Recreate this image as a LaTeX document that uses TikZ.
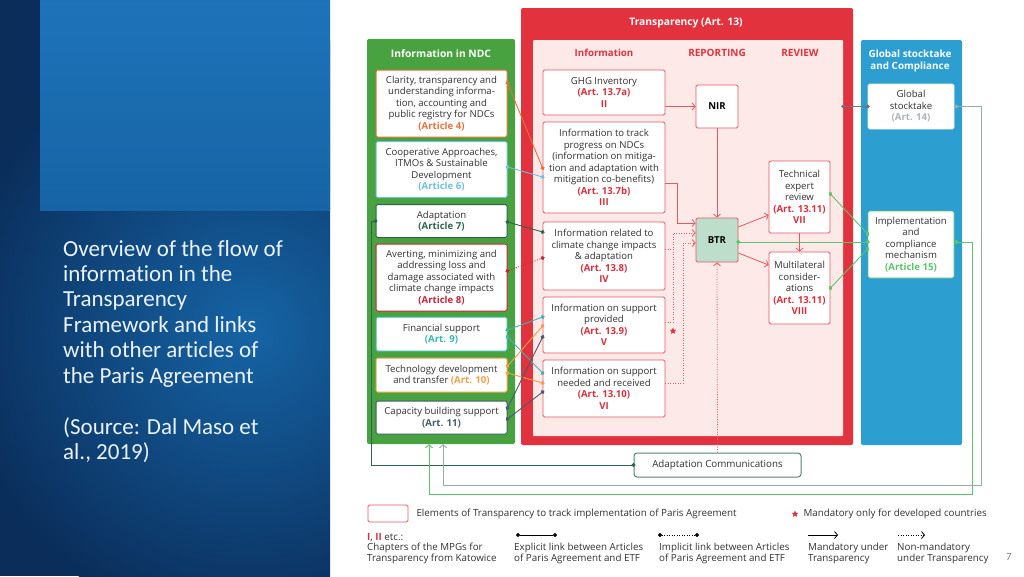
\documentclass[tikz,border=0pt]{standalone}
\usepackage{fontspec}
\setmainfont{Open Sans}
\newfontfamily\slidefont{Carlito}[Ligatures=NoCommon]
\usetikzlibrary{arrows.meta,shapes.geometric}

\definecolor{ndcgreen}{RGB}{72,162,63}
\definecolor{trred}{RGB}{226,50,62}
\definecolor{trpink}{RGB}{253,233,231}
\definecolor{boxred}{RGB}{228,88,100}
\definecolor{artred}{RGB}{214,48,60}
\definecolor{gsblue}{RGB}{44,158,208}
\definecolor{artorange}{RGB}{232,112,56}
\definecolor{artblue}{RGB}{110,190,225}
\definecolor{adgreen}{RGB}{46,100,78}
\definecolor{lossred}{RGB}{200,36,60}
\definecolor{finteal}{RGB}{56,184,178}
\definecolor{techorange}{RGB}{245,158,70}
\definecolor{capslate}{RGB}{66,94,104}
\definecolor{btrfill}{RGB}{190,222,204}
\definecolor{implgreen}{RGB}{92,196,106}
\definecolor{gsgray}{RGB}{150,172,172}
\definecolor{gstext}{RGB}{170,180,185}
\definecolor{bodygray}{RGB}{50,50,50}
\definecolor{navydark}{RGB}{10,45,90}
\definecolor{navymid}{RGB}{22,100,165}
\definecolor{navytop}{RGB}{30,115,185}
\definecolor{slidewhite}{RGB}{235,242,250}

\newcommand\artref[2][artred]{\textcolor{#1}{\bfseries #2}}

\tikzset{
  diagtext/.style={font=\fontsize{9.6}{11.5}\selectfont, text=bodygray},
  legtext/.style={font=\fontsize{9.8}{11}\selectfont, text=bodygray},
  ndcbox/.style={draw=#1, fill=white, line width=1pt, rounded corners=1.5pt,
    minimum width=131, align=center, inner sep=1pt, diagtext},
  trbox/.style={draw=boxred, fill=white, line width=0.8pt, rounded corners=1.5pt,
    minimum width=122, align=center, inner sep=1pt, diagtext},
  colpanel/.style={fill=#1, rounded corners=2pt, inner sep=0pt},
  coltitle/.style={font=\bfseries\fontsize{10.3}{11.5}\selectfont, text=white, align=center},
  redhead/.style={font=\bfseries\fontsize{9.7}{11}\selectfont, text=trred},
  explink/.style={draw=#1, line width=0.9pt, {Circle[length=4pt]}-{Circle[length=4pt]},
    shorten <=-2pt, shorten >=-2pt},
  implink/.style={explink=#1, dash pattern=on 0.9pt off 1.6pt},
  mandarrow/.style={draw=boxred, line width=0.8pt, -{Straight Barb[length=3pt,width=7pt]}},
  optarrow/.style={mandarrow, dash pattern=on 0.9pt off 1.6pt},
  slidetext/.style={font=\slidefont\fontsize{23}{25.4}\selectfont, text=slidewhite,
    align=left, inner sep=0pt},
}

\begin{document}
\begin{tikzpicture}[x=1pt, y=-1pt]
\useasboundingbox (0,0) rectangle (1024,576);
\fill[white] (0,0) rectangle (1024,576);

% slide panel
\begin{scope}
  \clip (0,0) rectangle (330,576);
  \fill[navydark] (0,0) rectangle (330,576);
  \shade[inner color=navymid, outer color=navydark] (250,330) circle (300);
  \shade[top color=navytop, bottom color=navymid] (40,0) rectangle (330,210);
\end{scope}
\node[slidetext, anchor=north west] (title) at (63,240)
  {Overview of the flow of\\information in the\\Transparency\\Framework and links\\with other articles of\\the Paris Agreement};
\node[slidetext, anchor=north west] (source) at (63,417) {(Source: Dal Maso et\\al., 2019)};
\node[font=\slidefont\fontsize{11}{13}\selectfont, text=gray] (pageno) at (1009,557) {7};

% columns
\node[colpanel=ndcgreen, minimum width=148, minimum height=405] (ndccol) at (441,241.5) {};
\node[coltitle] (ndctitle) at (441,54) {Information in NDC};
\node[colpanel=trred, minimum width=332, minimum height=437] (trcol) at (687,226.5) {};
\node[fill=trpink, minimum width=310, minimum height=396, inner sep=0pt, rounded corners=1pt] (trpanel) at (688,238) {};
\node[coltitle] (trtitle) at (686,23) {Transparency (Art. 13)};
\node[redhead] (infohead) at (604,53) {Information};
\node[redhead, font=\bfseries\fontsize{10}{11}\selectfont] (rephead) at (717,53) {REPORTING};
\node[redhead, font=\bfseries\fontsize{10}{11}\selectfont] (revhead) at (800,53) {REVIEW};
\node[colpanel=gsblue, minimum width=101, minimum height=405] (gscol) at (911.5,242.5) {};
\node[coltitle, font=\bfseries\fontsize{9.9}{11.5}\selectfont] (gstitle) at (910,61) {Global stocktake\\and Compliance};

% information in NDC
\node[ndcbox=artorange, minimum height=67] (clar) at (441.5,103.5)
  {Clarity, transparency and\\understanding informa-\\tion, accounting and\\public registry for NDCs\\\artref[artorange]{(Article 4)}};
\node[ndcbox=artblue, minimum height=56] (coop) at (441.5,169.5)
  {Cooperative Approaches,\\ITMOs \& Sustainable\\Development\\\artref[artblue]{(Article 6)}};
\node[ndcbox=adgreen, minimum height=33] (adapt) at (441.5,221)
  {Adaptation\\\artref[adgreen]{(Article 7)}};
\node[ndcbox=lossred, minimum height=67] (avert) at (441.5,277.5)
  {Averting, minimizing and\\addressing loss and\\damage associated with\\climate change impacts\\\artref[lossred]{(Article 8)}};
\node[ndcbox=finteal, minimum height=34] (fin) at (441.5,334)
  {Financial support\\\artref[finteal]{(Art. 9)}};
\node[ndcbox=techorange, minimum height=34] (tech) at (441.5,375)
  {Technology development\\and transfer \artref[techorange]{(Art. 10)}};
\node[ndcbox=capslate, minimum height=33] (cap) at (441.5,417.5)
  {Capacity building support\\\artref[capslate]{(Art. 11)}};

% transparency
\node[trbox, minimum height=45] (ghg) at (604,92.5)
  {GHG Inventory\\\artref{(Art. 13.7a)}\\\artref{II}};
\node[trbox, minimum height=91] (track) at (604,167.5)
  {Information to track\\progress on NDCs\\(information on mitiga-\\tion and adaptation with\\mitigation co-benefits)\\\artref{(Art. 13.7b)}\\\artref{III}};
\node[trbox, minimum height=68] (clim) at (604,256)
  {Information related to\\climate change impacts\\\& adaptation\\\artref{(Art. 13.8)}\\\artref{IV}};
\node[trbox, minimum height=56] (prov) at (604,325)
  {Information on support\\provided\\\artref{(Art. 13.9)}\\\artref{V}};
\node[trbox, minimum height=57] (need) at (604,388.5)
  {Information on support\\needed and received\\\artref{(Art. 13.10)}\\\artref{VI}};
\node[trbox, minimum width=42, minimum height=43, font=\bfseries\fontsize{9.6}{10}\selectfont, text=black] (nir) at (717,106.5) {NIR};
\node[trbox, fill=btrfill, minimum width=42, minimum height=44, font=\bfseries\fontsize{9.6}{10}\selectfont, text=black] (btr) at (717,240) {BTR};
\node[trbox, minimum width=61, minimum height=72] (ter) at (799.5,197)
  {Technical\\expert\\review\\\artref{(Art. 13.11)}\\\artref{VII}};
\node[trbox, minimum width=61, minimum height=72] (multi) at (799.5,288)
  {Multilateral\\consider-\\ations\\\artref{(Art. 13.11)}\\\artref{VIII}};

% global stocktake and compliance
\node[ndcbox=white!85!gray, minimum width=86, minimum height=45, line width=0.6pt] (gs) at (911,106.5)
  {Global\\stocktake\\\artref[gstext]{(Art. 14)}};
\node[ndcbox=implgreen, minimum width=86, minimum height=67, line width=0.8pt] (impl) at (911,244.5)
  {Implementation\\and\\compliance\\mechanism\\\artref[implgreen]{(Article 15)}};
\node[ndcbox=adgreen!80!white, minimum width=167, minimum height=24, rounded corners=3pt, legtext] (adcom) at (717.5,465)
  {Adaptation Communications};

% links from NDC articles
\foreach \a/\ya/\b/\yb/\c in {clar/83/track/168/artorange, coop/167/track/177/artblue,
    adapt/222/clim/232/adgreen, fin/330/prov/317/finteal, fin/337/need/373/finteal,
    tech/366/prov/326/techorange, tech/373/need/383/techorange,
    cap/408/prov/337/capslate, cap/419/need/392/capslate}
  \draw[explink=\c] (\a.east |- 0,\ya) -- (\b.west |- 0,\yb);
\draw[implink=lossred] (avert.east |- 0,271) -- (clim.west |- 0,258);
\draw[explink=adgreen] (adapt.west) -- ++(-4,0) |- (adcom.west);

% reporting and review
\draw[mandarrow] (ghg.east |- nir.west) -- (nir.west);
\draw[mandarrow] (nir) -- (btr);
\draw[mandarrow] (track.east |- 0,183) -- ++(12,0) |- (btr.west |- 0,223);
\draw[optarrow] (prov.east |- 0,322) -- ++(8,0) |- (btr.west |- 0,233);
\draw[boxred, line width=0.8pt, dash pattern=on 0.9pt off 1.6pt] (clim.east |- 0,249) -- ++(8,0);
\draw[optarrow] (need.east |- 0,383) -- ++(18,0) |- (btr.west |- 0,243);
\draw[optarrow] (adcom.north) -- (btr.south);
\draw[mandarrow] (btr.east |- 0,227) -- (ter.west |- 0,215);
\draw[mandarrow] (btr.east |- 0,253) -- (multi.west |- 0,265);
\draw[mandarrow] (ter) -- (multi);
\node[star, star points=5, star point ratio=2.2, fill=trred, inner sep=0pt, minimum size=7] (devstar) at (673,331) {};

% compliance and stocktake
\draw[explink=implgreen] (btr.east |- 0,242) -- (impl.west |- 0,242);
\draw[explink=implgreen] (ter.east |- 0,194) -- (impl.west |- 0,234);
\draw[explink=implgreen] (multi.east |- 0,288) -- (impl.west |- 0,249);
\draw[explink=gsgray!70!black] (trpanel.east |- gs.west) -- (gs.west);
\draw[implgreen, line width=0.9pt, {Circle[length=4pt]}-{Straight Barb[length=3pt,width=7pt]}]
  (impl.east |- 0,242) -| (972,494) -| (ndccol.south -| 429,0);
\draw[gsgray, line width=0.9pt, {Circle[length=4pt]}-{Straight Barb[length=3pt,width=7pt]}]
  (gs.east) -| (981,485) -| (ndccol.south -| 443,0);

% legend
\node[draw=boxred, line width=0.8pt, rounded corners=1.5pt, minimum width=40, minimum height=17] (legbox) at (388,513.5) {};
\node[legtext, anchor=west] (legboxtext) at (413,514) {Elements of Transparency to track implementation of Paris Agreement};
\node[star, star points=5, star point ratio=2.2, fill=trred, inner sep=0pt, minimum size=7] (legstar) at (795,514) {};
\node[legtext, anchor=west] (legstartext) at (800,514) {Mandatory only for developed countries};
\node[legtext, anchor=west, inner sep=0pt] (legchap) at (367,538) {\artref{I}, \artref{II} etc.:};
\node[legtext, anchor=north west, align=left, inner sep=0pt] (legchaptext) at (367,543)
  {Chapters of the MPGs for\\Transparency from Katowice};
\coordinate (exA) at (518,535);
\coordinate (exB) at (555,535);
\draw[explink=black] (exA) -- (exB);
\node[legtext, anchor=north west, align=left, inner sep=0pt] (legex) at (514,543)
  {Explicit link between Articles\\of Paris Agreement and ETF};
\coordinate (imA) at (660,535);
\coordinate (imB) at (697,535);
\draw[implink=black] (imA) -- (imB);
\node[legtext, anchor=north west, align=left, inner sep=0pt] (legim) at (659,543)
  {Implicit link between Articles\\of Paris Agreement and ETF};
\coordinate (mdA) at (808,535);
\coordinate (mdB) at (838,535);
\draw[mandarrow, draw=black] (mdA) -- (mdB);
\node[legtext, anchor=north west, align=left, inner sep=0pt] (legmd) at (808,543)
  {Mandatory under\\Transparency};
\coordinate (nmA) at (898,535);
\coordinate (nmB) at (925,535);
\draw[optarrow, draw=black] (nmA) -- (nmB);
\node[legtext, anchor=north west, align=left, inner sep=0pt] (legnm) at (897,543)
  {Non-mandatory\\under Transparency};
\end{tikzpicture}
\end{document}
